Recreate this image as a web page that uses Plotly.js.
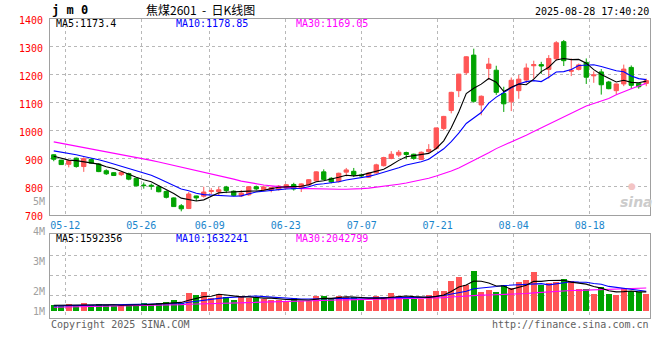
<!DOCTYPE html>
<html><head><meta charset="utf-8">
<script src="https://cdn.plot.ly/plotly-3.0.1.min.js"></script>
<style>html,body{margin:0;padding:0;background:#fff}</style>
</head><body>
<div id="chart" style="width:660px;height:360px"></div>
<script>
// ---- trading dates (JM2601 daily K line) ----
const dates = [
 '05-08','05-09','05-12','05-13','05-14','05-15','05-16','05-19','05-20','05-21','05-22','05-23','05-26','05-27','05-28','05-29','05-30',
 '06-03','06-04','06-05','06-06','06-09','06-10','06-11','06-12','06-13','06-16','06-17','06-18','06-19','06-20','06-23','06-24','06-25','06-26','06-27','06-30',
 '07-01','07-02','07-03','07-04','07-07','07-08','07-09','07-10','07-11','07-14','07-15','07-16','07-17','07-18','07-21','07-22','07-23','07-24','07-25','07-28','07-29','07-30','07-31',
 '08-01','08-04','08-05','08-06','08-07','08-08','08-11','08-12','08-13','08-14','08-15','08-18','08-19','08-20','08-21','08-22','08-25','08-26','08-27','08-28'];

const open = [914,895,880,902,872,897,881,857,850,843, 847,830,806,805,800,783,760,732,722,767,
 766,783,782,799,784,767,771,800,789,788, 790,795,808,795,806,821,853,830,818,852,
 855,842,834,849,875,901,913,922,916,897, 925,937,1008,1072,1143,1207,1270,1092,1222,1216,
 1133,1103,1143,1181,1232,1236,1219,1257,1318,1212, 1219,1244,1196,1210,1174,1143,1167,1226,1169,1169];
const high = [916,896,895,904,905,902,884,862,852,854, 850,832,815,811,806,787,762,738,781,768,
 800,795,799,803,787,788,802,804,804,800, 806,809,814,812,827,855,862,834,850,867,
 867,847,851,882,907,927,931,925,918,926, 952,1011,1053,1139,1203,1266,1293,1126,1260,1232,
 1157,1190,1199,1240,1250,1246,1270,1320,1324,1258, 1240,1258,1212,1220,1178,1168,1236,1233,1170,1186];
const low = [891,878,869,868,853,882,852,842,838,838, 823,802,793,789,780,758,728,712,720,749,
 761,774,768,777,766,763,768,787,784,780, 786,792,786,781,804,818,823,812,815,837,
 835,832,831,847,872,898,906,898,896,895, 921,933,1001,1062,1120,1200,1100,1055,1181,1128,
 1067,1070,1114,1170,1186,1203,1186,1250,1231,1195, 1215,1167,1171,1129,1148,1129,1159,1150,1150,1159];
const close = [898,879,893,872,900,884,854,846,840,851, 827,803,804,802,782,762,729,721,774,760,
 781,786,789,786,769,777,800,792,799,797, 802,807,792,810,825,853,826,817,848,860,
 843,839,849,878,904,916,923,915,901,923, 933,1010,1051,1137,1202,1264,1105,1123,1238,1137,
 1096,1180,1184,1224,1236,1231,1258,1314,1250,1216, 1235,1191,1199,1164,1150,1167,1220,1162,1157,1179];

// MA lead-in values (periods before the first visible session)
const ma5Lead = [909,901,895,893];
const ma10Lead = [928,924,919,914,908,903,896,889,881];
const ma30 = [960,955,950,946,940,935,930,926,921,915, 910,905,900,894,888,882,875,870,864,859,
 852,845,840,833,827,820,815,811,806,803, 800,797,794,793,793,792,792,791,791,791,
 791,793,795,798,801,805,809,813,818,824, 830,838,846,856,867,880,893,907,921,936,
 948,958,970,984,997,1010,1023,1036,1050,1063, 1075,1088,1097,1106,1115,1128,1140,1150,1160,1169];

// volume, millions of lots
const volume = [0.50,0.41,0.58,0.47,0.67,0.47,0.58,0.47,0.41,0.47, 0.47,0.58,0.67,0.58,0.67,0.78,0.93,0.64,1.54,1.37,
 1.63,1.10,1.48,1.22,0.93,1.28,1.10,1.17,0.99,0.93, 0.93,0.87,1.10,0.87,0.87,1.28,1.28,1.06,1.28,1.19,
 1.17,0.99,0.84,1.28,1.17,1.54,1.28,1.10,1.04,1.04, 1.34,1.71,1.71,2.58,2.93,2.21,3.45,1.63,1.80,1.63,
 2.24,2.00,2.50,2.67,3.37,2.21,2.38,2.50,2.76,2.58, 1.86,1.86,1.45,2.06,1.45,1.37,1.97,1.74,1.65,1.45];
const volMa5Lead = [0.47,0.48,0.49,0.50];
const volMa10Lead = [0.42,0.43,0.44,0.45,0.46,0.47,0.48,0.49,0.50];
const volMa30 = [0.30,0.31,0.32,0.33,0.34,0.35,0.36,0.37,0.39,0.40, 0.41,0.42,0.43,0.44,0.45,0.47,0.50,0.53,0.56,0.58,
 0.60,0.62,0.65,0.67,0.69,0.71,0.73,0.75,0.77,0.79, 0.82,0.85,0.86,0.87,0.88,0.89,0.90,0.92,0.93,0.94,
 0.95,0.96,0.98,1.00,1.02,1.04,1.05,1.06,1.07,1.08, 1.09,1.10,1.14,1.19,1.24,1.28,1.32,1.35,1.36,1.38,
 1.40,1.43,1.46,1.50,1.55,1.60,1.65,1.69,1.72,1.75, 1.77,1.79,1.81,1.83,1.85,1.88,1.91,1.94,1.96,1.98];

const tickDates = ['05-12','05-26','06-09','06-23','07-07','07-21','08-04','08-18'];
const priceTicks = [700,800,900,1000,1100,1200,1300,1400];

// ---- helpers ----
function movingAvg(arr, n, lead) {
  return arr.map((v, i) => i < n - 1 ? lead[i] : arr.slice(i - n + 1, i + 1).reduce((a, b) => a + b, 0) / n);
}
const RED = '#ff5656', GREEN = '#00a300', MONO = 'DejaVu Sans Mono', GRID = '#b8b8b8', BORDER = '#a0a0a0';
const idx = dates.map((d, i) => i);
const ma5 = movingAvg(close, 5, ma5Lead);
const ma10 = movingAvg(close, 10, ma10Lead);
const volMa5 = movingAvg(volume, 5, volMa5Lead);
const volMa10 = movingAvg(volume, 10, volMa10Lead);
const barColors = close.map((c, i) => c >= open[i] ? RED : GREEN);
// Sina spaces its date grid at 7.6 px/session while candles use 7.5 px
const tickvals = tickDates.map(d => dates.indexOf(d) * 76 / 75 - 0.49);

const line = (y, color, xa, ya) => ({type:'scatter', mode:'lines', x: idx, y, xaxis: xa, yaxis: ya,
  line:{color, width:1.1}, hoverinfo:'skip'});

const traces = [
  {type:'candlestick', x: idx, open, high, low, close, xaxis:'x', yaxis:'y', whiskerwidth:0,
   increasing:{line:{color:RED, width:1}, fillcolor:RED},
   decreasing:{line:{color:GREEN, width:1}, fillcolor:GREEN}, hoverinfo:'skip'},
  line(ma30, '#ff00ff', 'x', 'y'),
  line(ma10, '#0000ff', 'x', 'y'),
  line(ma5, '#000000', 'x', 'y'),
  {type:'bar', x: idx, y: volume, width:0.8, xaxis:'x2', yaxis:'y2', marker:{color: barColors, line:{width:0}}, hoverinfo:'skip'},
  line(volMa30, '#ff00ff', 'x2', 'y2'),
  line(volMa10, '#0000ff', 'x2', 'y2'),
  line(volMa5, '#000000', 'x2', 'y2')
];

const W = 660, H = 360;
function ann(text, px, py, color, xanchor, extra) {
  return Object.assign({text, x: px / W, y: 1 - py / H, xref:'paper', yref:'paper', xanchor: xanchor || 'left',
    yanchor:'middle', showarrow:false, borderpad:0, font:{family:MONO, size:10, color}}, extra || {});
}
const axisCommon = {showgrid:true, gridcolor:GRID, griddash:'dot', gridwidth:1, showline:true, mirror:true,
  linecolor:BORDER, linewidth:1, ticks:'', zeroline:false, fixedrange:true};

const layout = {
  width:W, height:H, margin:{l:0, r:0, t:0, b:0}, paper_bgcolor:'#fff', plot_bgcolor:'#fff',
  showlegend:false, hovermode:false, bargap:0, boxgap:0.18,
  xaxis: Object.assign({}, axisCommon, {domain:[50/W, 650/W], range:[-0.5, 79.5], anchor:'y',
    tickmode:'array', tickvals, ticktext: tickDates, tickfont:{family:MONO, size:10, color:'#1a86cc'},
    ticklabelstandoff:1, rangeslider:{visible:false}}),
  yaxis: Object.assign({}, axisCommon, {domain:[1 - 214.7/H, 1 - 18.7/H], range:[700, 1400], anchor:'x',
    tickmode:'array', tickvals: priceTicks, tickfont:{family:MONO, size:10, color:'#ff0000'},
    ticklabelstandoff:4, ticklabelshift:2}),
  xaxis2: Object.assign({}, axisCommon, {domain:[50/W, 650/W], range:[-0.5, 79.5], anchor:'y2',
    tickmode:'array', tickvals, showticklabels:false}),
  yaxis2: Object.assign({}, axisCommon, {domain:[1 - 318.3/H, 1 - 234.3/H], range:[-0.661, 6.643], anchor:'x2',
    tickmode:'array', tickvals:[1.34, 3.08, 4.82], showticklabels:false}),
  annotations: [
    ann('<b>j m 0</b>', 51, 10, '#000', 'left', {font:{family:MONO, size:12, color:'#000'}}),
    ann('焦煤2601  -  日K线图', 200, 9, '#000', 'center', {font:{family:'Noto Sans CJK SC', size:12, color:'#000'}}),
    ann('2025-08-28 17:40:20', 650, 11, '#000', 'right'),
    ann('MA5:1173.4', 55, 24, '#000000'),
    ann('MA10:1178.85', 175, 24, '#0000ff'),
    ann('MA30:1169.05', 295, 24, '#ff00ff'),
    ann('MA5:1592356', 55, 238, '#000000'),
    ann('MA10:1632241', 175, 238, '#0000ff'),
    ann('MA30:2042799', 295, 238, '#ff00ff'),
    ann('5M', 46, 201, '#a0a0a0', 'right'),
    ann('4M', 46, 231, '#a0a0a0', 'right'),
    ann('3M', 46, 261, '#a0a0a0', 'right'),
    ann('2M', 46, 291, '#a0a0a0', 'right'),
    ann('1M', 46, 311, '#a0a0a0', 'right'),
    ann('Copyright 2025 SINA.COM', 50, 324, '#606060'),
    ann('http://finance.sina.com.cn', 650, 324, '#606060', 'right'),
    ann('<b><i>sina</i></b>', 636, 202, '#cccccc', 'center', {font:{family:'DejaVu Sans', size:14, color:'#cccccc'}}),
    ann('●', 632, 186, '#f3c4c4', 'center', {font:{family:'DejaVu Sans', size:9, color:'#f3c4c4'}})
  ]
};

Plotly.newPlot('chart', traces, layout, {displayModeBar:false, staticPlot:true});
</script>
</body></html>
